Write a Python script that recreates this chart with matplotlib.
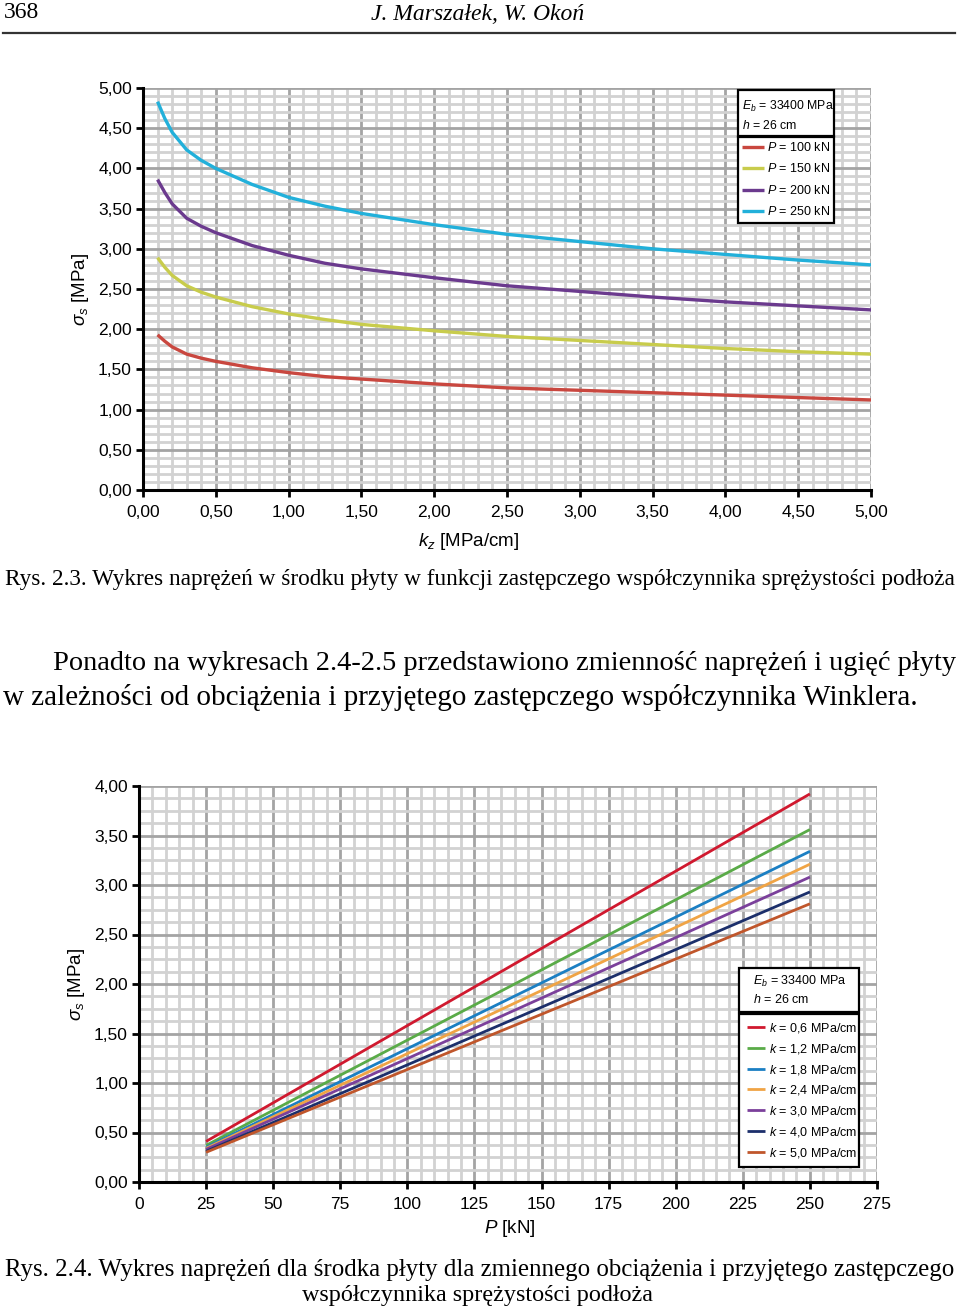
import matplotlib
matplotlib.use("Agg")
import matplotlib.pyplot as plt
from matplotlib.lines import Line2D
from matplotlib.patches import Rectangle
from matplotlib.ticker import MultipleLocator, FuncFormatter

plt.rcParams['font.family'] = ['Liberation Sans', 'DejaVu Sans']
plt.rcParams['mathtext.fontset'] = 'custom'
plt.rcParams['mathtext.rm'] = 'Liberation Sans'
plt.rcParams['mathtext.it'] = 'Liberation Sans:italic'

# ---------------- data: chart 1 (Rys. 2.3) ----------------
kz = [0.1, 0.15, 0.2, 0.3, 0.4, 0.5, 0.75, 1.0, 1.25, 1.5, 2.0, 2.5, 3.0, 3.5, 4.0, 4.5, 5.0]
s_P100 = [1.93, 1.85, 1.78, 1.69, 1.64, 1.60, 1.52, 1.46, 1.41, 1.38, 1.32, 1.27, 1.24, 1.21, 1.18, 1.15, 1.12]
s_P150 = [2.89, 2.77, 2.67, 2.54, 2.46, 2.40, 2.28, 2.19, 2.12, 2.06, 1.98, 1.91, 1.86, 1.81, 1.76, 1.72, 1.69]
s_P200 = [3.86, 3.70, 3.56, 3.38, 3.28, 3.20, 3.04, 2.92, 2.82, 2.75, 2.64, 2.54, 2.47, 2.40, 2.34, 2.29, 2.24]
s_P250 = [4.83, 4.62, 4.45, 4.23, 4.10, 4.00, 3.80, 3.64, 3.53, 3.44, 3.30, 3.18, 3.09, 3.00, 2.93, 2.86, 2.80]
labels1 = ["$P$ = 100 kN", "$P$ = 150 kN", "$P$ = 200 kN", "$P$ = 250 kN"]
colors1 = ["#c9473f", "#c8cc4c", "#6b3a8e", "#22b0da"]

# ---------------- data: chart 2 (Rys. 2.4) ----------------
P = [25, 250]
s_k06 = [0.41, 3.92]
s_k12 = [0.37, 3.56]
s_k18 = [0.35, 3.34]
s_k24 = [0.34, 3.21]
s_k30 = [0.33, 3.08]
s_k40 = [0.31, 2.93]
s_k50 = [0.30, 2.81]
labels2 = ["$k$ = 0,6 MPa/cm", "$k$ = 1,2 MPa/cm", "$k$ = 1,8 MPa/cm", "$k$ = 2,4 MPa/cm",
           "$k$ = 3,0 MPa/cm", "$k$ = 4,0 MPa/cm", "$k$ = 5,0 MPa/cm"]
colors2 = ["#d0192f", "#5aab48", "#1b7fc3", "#f0a445", "#7b409b", "#1c2f6b", "#c0562b"]

W, H = 960, 1311
fig = plt.figure(figsize=(W / 100, H / 100), dpi=100)


def fx(x):
    return x / W


def fy(y):
    return 1 - y / H


def comma(v, _pos=None):
    return f"{v:.2f}".replace(".", ",")


def style_axes(ax, xmaj, xmin, ymaj, ymin):
    ax.xaxis.set_major_locator(MultipleLocator(xmaj))
    ax.xaxis.set_minor_locator(MultipleLocator(xmin))
    ax.yaxis.set_major_locator(MultipleLocator(ymaj))
    ax.yaxis.set_minor_locator(MultipleLocator(ymin))
    ax.grid(which='minor', color='#d2d2d2', linewidth=2.0, zorder=0)
    ax.grid(which='major', color='#a4a4a4', linewidth=2.0, zorder=0)
    ax.set_axisbelow(True)
    for s in ['top', 'right']:
        ax.spines[s].set_visible(False)
    for s in ['left', 'bottom']:
        ax.spines[s].set_linewidth(2.2)
        ax.spines[s].set_color('black')
        ax.spines[s].set_zorder(5)
    ax.tick_params(which='major', direction='out', length=5, width=2, labelsize=12.5, pad=3)
    ax.tick_params(which='minor', length=0)


LEGFS = 9.0
HDRFS = 8.8
LABFS = 13.5

# ---------------- chart 1 ----------------
ax1 = fig.add_axes([fx(143), fy(490), fx(871) - fx(143), fy(88) - fy(490)])
ax1.set_xlim(0, 5)
ax1.set_ylim(0, 5)
style_axes(ax1, 0.5, 0.1, 0.5, 0.1)
ax1.yaxis.set_major_formatter(FuncFormatter(comma))
ax1.xaxis.set_major_formatter(FuncFormatter(comma))
ax1.tick_params(axis='x', pad=6)
for ys, c, lab in zip([s_P100, s_P150, s_P200, s_P250], colors1, labels1):
    ax1.plot(kz, ys, color=c, linewidth=2.4, label=lab, solid_capstyle='butt', zorder=3)
ax1.set_ylabel(r"$\sigma_s$ [MPa]", fontsize=LABFS)
ax1.yaxis.set_label_coords(-0.071, 0.5)
ax1.set_xlabel(r"$k_z$ [MPa/cm]", fontsize=LABFS)
ax1.xaxis.set_label_coords(0.448, -0.102)

bx0, bx1 = (738 - 143) / 728, (834 - 143) / 728
hb_top, hb_bot = (490 - 90) / 402, (490 - 136) / 402
ax1.add_patch(Rectangle((bx0, hb_bot), bx1 - bx0, hb_top - hb_bot, transform=ax1.transAxes,
                        facecolor='white', edgecolor='black', linewidth=1.6, zorder=10, clip_on=False))
ax1.text(bx0 + 0.006, hb_top - 0.022, "$E_b$ = 33400 MPa\n$h$ = 26 cm", transform=ax1.transAxes,
         fontsize=HDRFS, va='top', ha='left', zorder=11, linespacing=1.48)
leg1 = ax1.legend(loc='upper left', bbox_to_anchor=(bx0, (490 - 137) / 402, bx1 - bx0, 0.001),
                  mode='expand', borderaxespad=0, fontsize=LEGFS, handlelength=1.7,
                  handletextpad=0.3, labelspacing=0.68, borderpad=0.35, fancybox=False,
                  framealpha=1, edgecolor='black')
leg1.get_frame().set_linewidth(1.6)
leg1.set_zorder(12)

# ---------------- chart 2 ----------------
ax2 = fig.add_axes([fx(139), fy(1182), fx(877) - fx(139), fy(786) - fy(1182)])
ax2.set_xlim(0, 275)
ax2.set_ylim(0, 4)
style_axes(ax2, 25, 5, 0.5, 0.125)
ax2.yaxis.set_major_formatter(FuncFormatter(comma))
ax2.tick_params(axis='x', pad=6)
for ys, c, lab in zip([s_k06, s_k12, s_k18, s_k24, s_k30, s_k40, s_k50], colors2, labels2):
    ax2.plot(P, ys, color=c, linewidth=2.0, label=lab, solid_capstyle='butt', zorder=3)
ax2.set_ylabel(r"$\sigma_s$ [MPa]", fontsize=LABFS)
ax2.yaxis.set_label_coords(-0.071, 0.5)
ax2.set_xlabel(r"$P$ [kN]", fontsize=LABFS)
ax2.xaxis.set_label_coords(0.502, -0.092)

cx0, cx1 = (739 - 139) / 738, (859 - 139) / 738
h2_top, h2_bot = (1182 - 968) / 396, (1182 - 1012) / 396
ax2.add_patch(Rectangle((cx0, h2_bot), cx1 - cx0, h2_top - h2_bot, transform=ax2.transAxes,
                        facecolor='white', edgecolor='black', linewidth=1.6, zorder=10, clip_on=False))
ax2.text(cx0 + 0.019, h2_top - 0.016, "$E_b$ = 33400 MPa\n$h$ = 26 cm", transform=ax2.transAxes,
         fontsize=LEGFS, va='top', ha='left', zorder=11, linespacing=1.4)
leg2 = ax2.legend(loc='upper left', bbox_to_anchor=(cx0, (1182 - 1014) / 396, cx1 - cx0, 0.001),
                  mode='expand', borderaxespad=0, fontsize=LEGFS, handlelength=1.5,
                  handletextpad=0.3, labelspacing=0.54, borderpad=0.6, fancybox=False,
                  framealpha=1, edgecolor='black')
leg2.get_frame().set_linewidth(1.6)
leg2.set_zorder(12)

# ---------------- page text ----------------
serif = ['Liberation Serif', 'DejaVu Serif']
fig.text(fx(4), fy(13), "368", family=serif, fontsize=17, va='center', ha='left')
fig.text(fx(478), fy(14), "J. Marszałek, W. Okoń", family=serif, style='italic', fontsize=17,
         va='center', ha='center')
fig.add_artist(Line2D([fx(3), fx(955)], [fy(33), fy(33)], color='#333333', linewidth=1.6))

fig.text(fx(5), fy(580), "Rys. 2.3. Wykres naprężeń w środku płyty w funkcji zastępczego współczynnika sprężystości podłoża",
         family=serif, fontsize=16.75, va='center', ha='left')
fig.text(fx(53), fy(663), "Ponadto na wykresach 2.4-2.5 przedstawiono zmienność naprężeń i ugięć płyty",
         family=serif, fontsize=20.4, va='center', ha='left')
fig.text(fx(3), fy(698), "w zależności od obciążenia i przyjętego zastępczego współczynnika Winklera.",
         family=serif, fontsize=21.0, va='center', ha='left')
fig.text(fx(5), fy(1270), "Rys. 2.4. Wykres naprężeń dla środka płyty dla zmiennego obciążenia i przyjętego zastępczego",
         family=serif, fontsize=17.95, va='center', ha='left')
fig.text(fx(478), fy(1296), "współczynnika sprężystości podłoża",
         family=serif, fontsize=17.4, va='center', ha='center')

fig.savefig("out.png", dpi=100)
